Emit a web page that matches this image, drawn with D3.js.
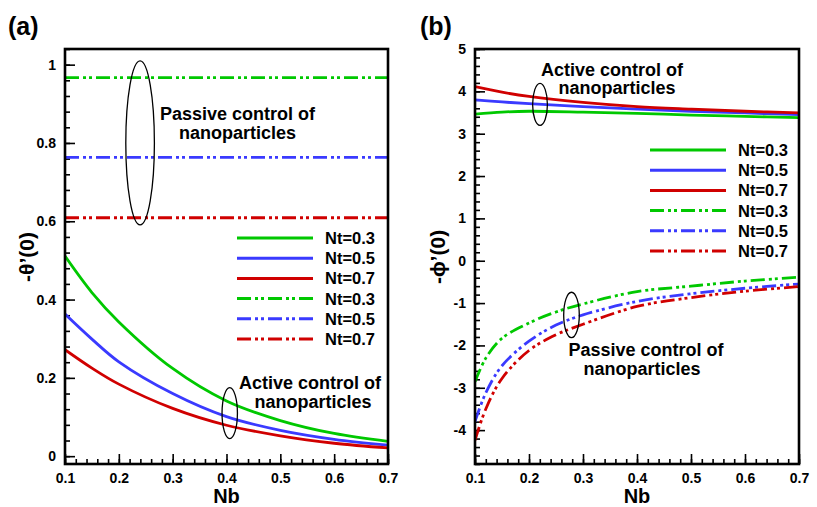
<!DOCTYPE html>
<html>
<head>
<meta charset="utf-8">
<script src="https://cdn.jsdelivr.net/npm/d3@7"></script>
<style>
  body { margin: 0; background: #fff; }
  svg { font-family: "Liberation Sans", Arial, Helvetica, sans-serif; font-weight: bold; }
</style>
</head>
<body>
<svg id="chart" width="817" height="507"></svg>
<script>
var nbSolid = [0.1, 0.15, 0.2, 0.3, 0.4, 0.5, 0.6, 0.7];
var nbDash = [0.1, 0.12, 0.15, 0.2, 0.25, 0.3, 0.4, 0.5, 0.6, 0.7];
var ntLabels = ['Nt=0.3', 'Nt=0.5', 'Nt=0.7'];
var colors = ['#00c800', '#3a3aff', '#d00000'];

// (a) -theta'(0)
var thetaActive03 = [0.511, 0.418, 0.343, 0.224, 0.141, 0.091, 0.058, 0.038];
var thetaActive05 = [0.363, 0.299, 0.241, 0.160, 0.101, 0.066, 0.043, 0.028];
var thetaActive07 = [0.272, 0.225, 0.184, 0.122, 0.079, 0.052, 0.033, 0.021];
var thetaPassive = [0.967, 0.763, 0.609];

// (b) -phi'(0)
var phiActive03 = [3.46, 3.51, 3.53, 3.51, 3.48, 3.44, 3.41, 3.38];
var phiActive05 = [3.80, 3.75, 3.71, 3.64, 3.58, 3.53, 3.49, 3.45];
var phiActive07 = [4.11, 3.98, 3.88, 3.74, 3.64, 3.58, 3.53, 3.49];
var phiPassive03 = [-2.86, -2.30, -1.83, -1.47, -1.21, -1.02, -0.73, -0.60, -0.48, -0.39];
var phiPassive05 = [-3.80, -3.12, -2.48, -1.90, -1.52, -1.28, -0.96, -0.78, -0.65, -0.55];
var phiPassive07 = [-4.24, -3.50, -2.78, -2.12, -1.75, -1.50, -1.08, -0.87, -0.72, -0.61];

var xTicks = [0.1, 0.2, 0.3, 0.4, 0.5, 0.6, 0.7];
var thetaTicks = [0, 0.2, 0.4, 0.6, 0.8, 1];
var phiTicks = [-4, -3, -2, -1, 0, 1, 2, 3, 4, 5];

var dashStyle = '14,4,3,3,3,4';
var svg = d3.select('#chart');

function fmt(d) { return String(+d.toFixed(2)); }

function panel(opt) {
  var x = d3.scaleLinear().domain([0.1, 0.7]).range([opt.left, opt.right]);
  var y = d3.scaleLinear().domain(opt.yDomain).range([464, 49]);
  var g = svg.append('g');

  // minor ticks
  g.append('g')
    .attr('transform', 'translate(0,464)')
    .call(d3.axisBottom(x).tickValues(d3.range(0.1, 0.7001, 0.02)).tickSizeInner(-5).tickSizeOuter(0).tickFormat(''))
    .call(s => s.select('.domain').remove());
  g.append('g')
    .attr('transform', 'translate(' + opt.left + ',0)')
    .call(d3.axisLeft(y).tickValues(opt.yMinor).tickSizeInner(-5).tickSizeOuter(0).tickFormat(''))
    .call(s => s.select('.domain').remove());

  // major ticks
  var xa = g.append('g')
    .attr('transform', 'translate(0,464)')
    .call(d3.axisBottom(x).tickValues(xTicks).tickSizeInner(-10).tickSizeOuter(0).tickPadding(9).tickFormat(fmt));
  var ya = g.append('g')
    .attr('transform', 'translate(' + opt.left + ',0)')
    .call(d3.axisLeft(y).tickValues(opt.yTicks).tickSizeInner(-10).tickSizeOuter(0).tickPadding(9).tickFormat(fmt));
  [xa, ya].forEach(function(a) {
    a.select('.domain').remove();
    a.selectAll('text').attr('font-size', 14).attr('font-family', null).attr('fill', '#000');
  });
  g.selectAll('.tick line').attr('stroke', '#000').attr('stroke-width', 1.6);

  var line = d3.line().x(d => x(d[0])).y(d => y(d[1])).curve(d3.curveCatmullRom);
  var clip = 'clip' + opt.id;
  g.append('clipPath').attr('id', clip).append('rect')
    .attr('x', opt.left).attr('y', 49).attr('width', opt.right - opt.left).attr('height', 415);
  var curves = g.append('g').attr('clip-path', 'url(#' + clip + ')');

  opt.series.forEach(function(s) {
    curves.append('path')
      .attr('d', line(s.xs.map((v, i) => [v, s.ys[i]])))
      .attr('fill', 'none')
      .attr('stroke', s.color)
      .attr('stroke-width', 2.8)
      .attr('stroke-dasharray', s.dash ? dashStyle : null);
  });

  // frame
  g.append('rect')
    .attr('x', opt.left).attr('y', 49)
    .attr('width', opt.right - opt.left).attr('height', 415)
    .attr('fill', 'none').attr('stroke', '#000').attr('stroke-width', 2.6);

  // legend
  var leg = g.append('g');
  opt.series.forEach(function(s, i) {
    var ly = opt.legY + i * 20.2;
    leg.append('line')
      .attr('x1', opt.legX).attr('x2', opt.legX + 76)
      .attr('y1', ly).attr('y2', ly)
      .attr('stroke', s.color).attr('stroke-width', 3)
      .attr('stroke-dasharray', s.dash ? dashStyle : null);
    leg.append('text')
      .attr('x', opt.legX + 88).attr('y', ly + 6)
      .attr('font-size', 16.5)
      .text(s.label);
  });

  // annotations
  opt.ellipses.forEach(function(e) {
    g.append('ellipse')
      .attr('cx', x(e.nb)).attr('cy', y(e.v))
      .attr('rx', e.rx).attr('ry', e.ry)
      .attr('fill', 'none').attr('stroke', '#000').attr('stroke-width', 1.3);
  });
  opt.notes.forEach(function(n) {
    g.append('text')
      .attr('x', n.x).attr('y', n.y)
      .attr('text-anchor', 'middle').attr('font-size', 18)
      .text(n.text);
  });

  // axis titles
  g.append('text')
    .attr('x', (opt.left + opt.right) / 2).attr('y', 503)
    .attr('text-anchor', 'middle').attr('font-size', 20)
    .text('Nb');
  g.append('text')
    .attr('transform', 'translate(' + opt.yLabelX + ',257) rotate(-90)')
    .attr('text-anchor', 'middle').attr('dy', '0.35em').attr('font-size', 21)
    .text(opt.yLabel);
  g.append('text')
    .attr('x', opt.tagX).attr('y', 35)
    .attr('font-size', 25)
    .text(opt.tag);
}

panel({
  id: 'a', left: 65, right: 388, yDomain: [-0.02, 1.04],
  yTicks: thetaTicks, yMinor: d3.range(0, 1.041, 0.04),
  yLabel: '-\u03b8\u2019(0)', yLabelX: 27, tag: '(a)', tagX: 8,
  legX: 237, legY: 238,
  series: [
    { xs: nbSolid, ys: thetaActive03, color: colors[0], label: ntLabels[0] },
    { xs: nbSolid, ys: thetaActive05, color: colors[1], label: ntLabels[1] },
    { xs: nbSolid, ys: thetaActive07, color: colors[2], label: ntLabels[2] },
    { xs: [0.1, 0.7], ys: [thetaPassive[0], thetaPassive[0]], color: colors[0], label: ntLabels[0], dash: true },
    { xs: [0.1, 0.7], ys: [thetaPassive[1], thetaPassive[1]], color: colors[1], label: ntLabels[1], dash: true },
    { xs: [0.1, 0.7], ys: [thetaPassive[2], thetaPassive[2]], color: colors[2], label: ntLabels[2], dash: true }
  ],
  ellipses: [
    { nb: 0.2395, v: 0.80, rx: 14.3, ry: 82 },
    { nb: 0.406, v: 0.11, rx: 7.7, ry: 25.5 }
  ],
  notes: [
    { x: 237.5, y: 119.5, text: 'Passive control of' },
    { x: 237.5, y: 138.5, text: 'nanoparticles' },
    { x: 310, y: 388.5, text: 'Active control of' },
    { x: 313, y: 407.5, text: 'nanoparticles' }
  ]
});

panel({
  id: 'b', left: 475, right: 799, yDomain: [-4.8, 5],
  yTicks: phiTicks, yMinor: d3.range(-4.8, 5.001, 0.2),
  yLabel: '-\u03d5\u2019(0)', yLabelX: 438, tag: '(b)', tagX: 420,
  legX: 650, legY: 150,
  series: [
    { xs: nbSolid, ys: phiActive03, color: colors[0], label: ntLabels[0] },
    { xs: nbSolid, ys: phiActive05, color: colors[1], label: ntLabels[1] },
    { xs: nbSolid, ys: phiActive07, color: colors[2], label: ntLabels[2] },
    { xs: nbDash, ys: phiPassive03, color: colors[0], label: ntLabels[0], dash: true },
    { xs: nbDash, ys: phiPassive05, color: colors[1], label: ntLabels[1], dash: true },
    { xs: nbDash, ys: phiPassive07, color: colors[2], label: ntLabels[2], dash: true }
  ],
  ellipses: [
    { nb: 0.2204, v: 3.69, rx: 7.4, ry: 21 },
    { nb: 0.2787, v: -1.28, rx: 7.8, ry: 22.7 }
  ],
  notes: [
    { x: 612, y: 75.5, text: 'Active control of' },
    { x: 617, y: 94, text: 'nanoparticles' },
    { x: 646, y: 355.5, text: 'Passive control of' },
    { x: 642, y: 374.5, text: 'nanoparticles' }
  ]
});
</script>
</body>
</html>
